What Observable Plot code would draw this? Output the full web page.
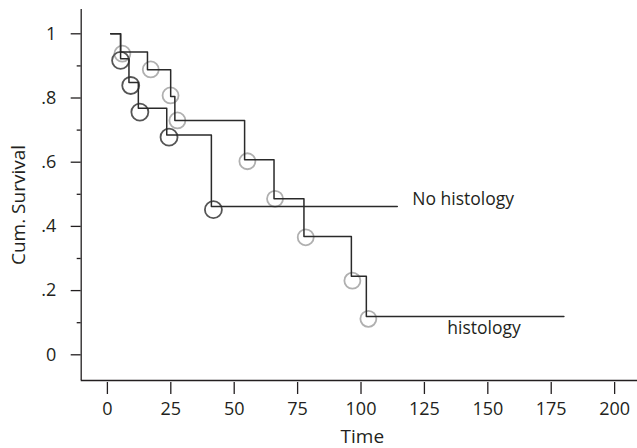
<!DOCTYPE html>
<html>
<head>
<meta charset="utf-8">
<script src="https://cdn.jsdelivr.net/npm/d3@7"></script>
<script src="https://cdn.jsdelivr.net/npm/@observablehq/plot@0.6"></script>
<style>
  html, body { margin: 0; padding: 0; background: #fff; }
</style>
</head>
<body>
<div id="chart"></div>
<script>
// Step curves (time of each step, survival after it)
const histTimes   = [1.3, 5.2, 15.8, 24.95, 26.6, 54.1, 65.7, 77.5, 96.2, 102.1, 180];
const histSurv    = [1, 0.943, 0.888, 0.805, 0.730, 0.608, 0.486, 0.3685, 0.245, 0.119, 0.119];
const noHistTimes = [1.3, 5.2, 8.5, 12.2, 23.4, 41.0, 114.3];
const noHistSurv  = [1, 0.922, 0.848, 0.768, 0.685, 0.462, 0.462];

// Circle markers
const histMarkTimes   = [5.9, 17.1, 24.9, 27.6, 55.2, 66.1, 78.2, 96.6, 102.9];
const histMarkSurv    = [0.938, 0.889, 0.808, 0.730, 0.603, 0.486, 0.366, 0.231, 0.112];
const noHistMarkTimes = [5.2, 9.2, 12.8, 24.3, 41.8];
const noHistMarkSurv  = [0.917, 0.839, 0.756, 0.678, 0.452];

// Curve labels
const curveLabels = ["No histology", "histology"];
const labelTimes  = [120.2, 134];
const labelSurv   = [0.483, 0.082];

// Axis ticks
const xTicks = [0, 25, 50, 75, 100, 125, 150, 175, 200];
const yTicks = [0, 0.2, 0.4, 0.6, 0.8, 1];
const yMinorTicks = [0.1, 0.3, 0.5, 0.7, 0.9];
const yTickLabels = ["0", ".2", ".4", ".6", ".8", "1"];

// Axis extents
const xMin = -10.33, xMax = 209.02;
const yMin = -0.0863, yMax = 1.0757, yAxisBase = -0.080;

const hist = histTimes.map((t, i) => ({t, s: histSurv[i]}));
const noHist = noHistTimes.map((t, i) => ({t, s: noHistSurv[i]}));
const histMarks = histMarkTimes.map((t, i) => ({t, s: histMarkSurv[i]}));
const noHistMarks = noHistMarkTimes.map((t, i) => ({t, s: noHistMarkSurv[i]}));
const labels = curveLabels.map((text, i) => ({text, t: labelTimes[i], s: labelSurv[i]}));

const ink = "#231f20";

const chart = Plot.plot({
  width: 637,
  height: 448,
  marginLeft: 80.7,
  marginRight: 0,
  marginTop: 9,
  marginBottom: 66,
  style: {fontFamily: "'Open Sans', sans-serif", fontSize: "18px", color: ink, background: "#fff"},
  x: {domain: [xMin, xMax], label: null},
  y: {domain: [yMin, yMax], label: null},
  marks: [
    // axis lines
    Plot.ruleX([xMin], {y1: yAxisBase, y2: yMax, stroke: ink, strokeWidth: 1.3}),
    Plot.ruleY([yAxisBase], {x1: xMin, x2: xMax, stroke: ink, strokeWidth: 1.3}),
    Plot.axisX({ticks: xTicks, tickSize: 12, tickPadding: 8, stroke: ink, strokeWidth: 1.3, fill: ink, fontSize: 18, tickFormat: d => String(d)}),
    Plot.axisY({ticks: yTicks, tickSize: 10, tickPadding: 15, stroke: ink, strokeWidth: 1.3, fill: ink, fontSize: 18,
      tickFormat: d => yTickLabels[yTicks.indexOf(d)]}),
    Plot.axisY({ticks: yMinorTicks, tickSize: 4, stroke: ink, strokeWidth: 1.3, tickFormat: () => ""}),
    // axis titles
    Plot.text(["Time"], {frameAnchor: "bottom", lineAnchor: "middle", textAnchor: "middle", dy: 54, dx: 3, fill: ink, fontSize: 19}),
    Plot.text(["Cum. Survival"], {frameAnchor: "left", textAnchor: "middle", lineAnchor: "middle", rotate: -90, dx: -62.7, dy: 9, fill: ink, fontSize: 19}),
    // circles
    Plot.dot(histMarks, {x: "t", y: "s", r: 8, stroke: "#b0b0b0", strokeWidth: 1.8, fill: "none"}),
    Plot.dot(noHistMarks, {x: "t", y: "s", r: 8.5, stroke: "#555", strokeWidth: 1.8, fill: "none"}),
    // step lines
    Plot.line(hist, {x: "t", y: "s", curve: "step-after", stroke: "#2a2a2a", strokeWidth: 1.5}),
    Plot.line(noHist, {x: "t", y: "s", curve: "step-after", stroke: "#2a2a2a", strokeWidth: 1.5}),
    // labels
    Plot.text(labels, {x: "t", y: "s", text: "text", textAnchor: "start", fill: ink, fontSize: 17.5})
  ]
});
document.getElementById("chart").appendChild(chart);
</script>
</body>
</html>
